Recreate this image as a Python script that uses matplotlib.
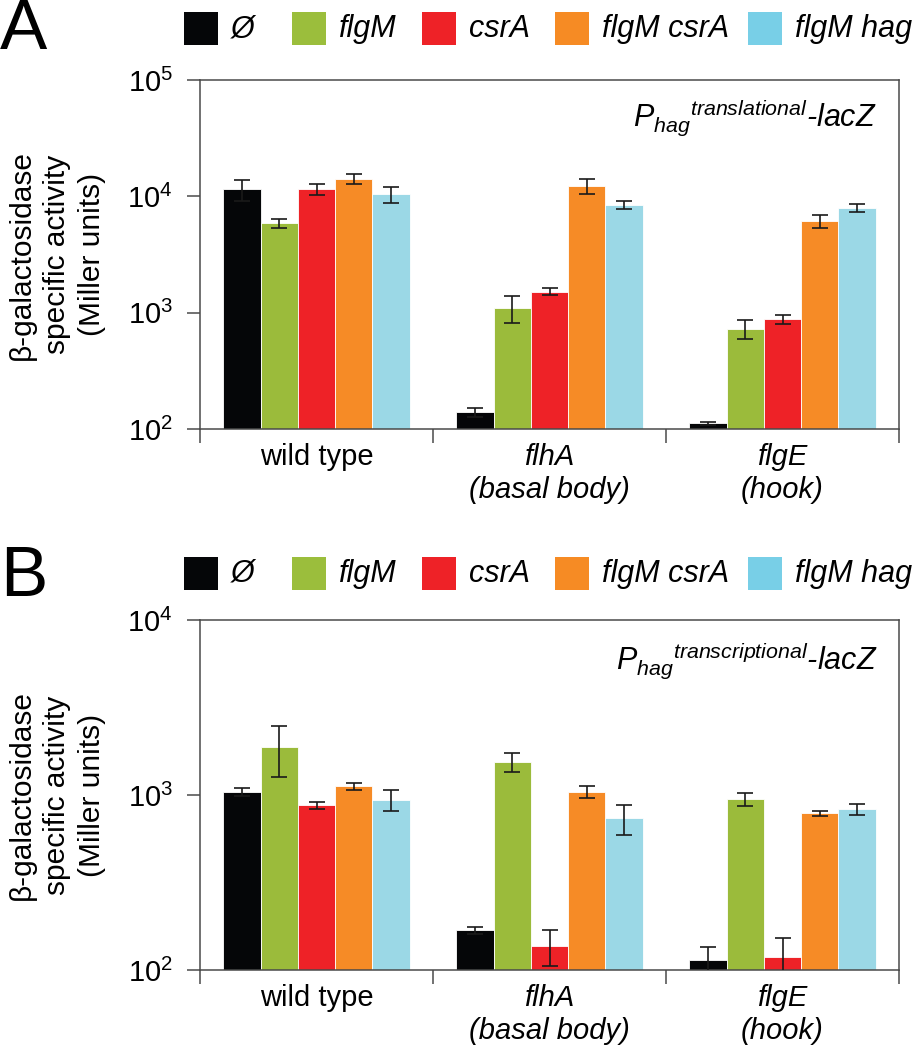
import matplotlib
matplotlib.use("Agg")
import matplotlib.pyplot as plt
import numpy as np
from matplotlib.patches import Rectangle
from matplotlib.ticker import NullLocator, LogLocator

plt.rcParams['font.family'] = ['Liberation Sans', 'DejaVu Sans']
plt.rcParams['mathtext.fontset'] = 'custom'
plt.rcParams['mathtext.rm'] = 'Liberation Sans'
plt.rcParams['mathtext.it'] = 'Liberation Sans:italic'
plt.rcParams['mathtext.bf'] = 'Liberation Sans:bold'

# ---------------- data ----------------
groups = ["wild type", "flhA\n(basal body)", "flgE\n(hook)"]
group_italic = [False, True, True]
strains = ["Ø", "flgM", "csrA", "flgM csrA", "flgM hag"]

# Panel A: P_hag translational-lacZ (Miller units), per strain, across groups
a_empty = [11500, 139, 112]
a_flgM = [5850, 1100, 724]
a_csrA = [11500, 1520, 877]
a_flgMcsrA = [14200, 12200, 6100]
a_flgMhag = [10400, 8450, 7980]
a_empty_err = [2400, 13, 4]
a_flgM_err = [550, 280, 135]
a_csrA_err = [1300, 100, 85]
a_flgMcsrA_err = [1500, 1800, 750]
a_flgMhag_err = [1600, 700, 690]

# Panel B: P_hag transcriptional-lacZ
b_empty = [1044, 169, 114]
b_flgM = [1875, 1545, 948]
b_csrA = [873, 138, 118]
b_flgMcsrA = [1122, 1040, 785]
b_flgMhag = [940, 736, 828]
b_empty_err = [55, 8, 22]
b_flgM_err = [600, 190, 85]
b_csrA_err = [40, 32, 34]
b_flgMcsrA_err = [50, 85, 22]
b_flgMhag_err = [135, 143, 63]

bar_colors = ["#050608", "#9BBB3B", "#EE2227", "#F68B26", "#9BD8E6"]
legend_colors = ["#050608", "#9BBE3C", "#EE2227", "#F68B24", "#78CFE7"]

W, H = 913, 1050
fig = plt.figure(figsize=(W / 100, H / 100), dpi=100)

def px(x, y):
    return x / W, 1 - y / H

line_col = "#4a4a4a"

def make_panel(top, bottom, ylim, vals, errs, annot_sup, annot_y):
    left, right = 200, 899
    ax = fig.add_axes([left / W, 1 - bottom / H, (right - left) / W, (bottom - top) / H])
    ax.set_yscale('log')
    ax.set_ylim(*ylim)
    ax.set_xlim(-0.5, len(groups) - 0.5)
    x = np.arange(len(groups))
    bw = 0.16
    for i, (v, e) in enumerate(zip(vals, errs)):
        xi = x + (i - 2) * bw
        ax.bar(xi, v, width=bw, color=bar_colors[i], edgecolor='white',
               linewidth=0.6, zorder=2)
        ax.errorbar(xi, v, yerr=e, fmt='none', ecolor='#1a1a1a', elinewidth=1.2,
                    capsize=5.8, capthick=1.2, zorder=3)
    for s in ax.spines.values():
        s.set_color(line_col)
        s.set_linewidth(1.1)
    ax.yaxis.set_major_locator(LogLocator(base=10, numticks=10))
    ax.yaxis.set_minor_locator(NullLocator())
    ax.tick_params(axis='y', which='major', length=9.5, width=1.1, color=line_col,
                   labelsize=21, pad=10)
    ax.set_xticks(np.arange(len(groups) + 1) - 0.5)
    ax.set_xticklabels([])
    ax.tick_params(axis='x', length=10, width=1.1, color=line_col)
    for i, g in enumerate(groups):
        ax.annotate(g, xy=(i, 0), xycoords=('data', 'axes fraction'),
                    xytext=(0, -10), textcoords='offset points',
                    ha='center', va='top', fontsize=21, linespacing=1.25,
                    style='italic' if group_italic[i] else 'normal')
    ax.text((877 - left) / (right - left), (bottom - annot_y) / (bottom - top),
            r'$P_{hag}{}^{' + annot_sup + r'}$-lacZ', transform=ax.transAxes,
            ha='right', va='baseline', fontsize=22, style='italic')
    fig.text(*px(57, (top + bottom) / 2),
             "β-galactosidase\nspecific activity\n(Miller units)",
             rotation=90, ha='center', va='center', multialignment='center',
             fontsize=21.5, linespacing=1.32)
    return ax

def draw_legend(top):
    sq_x = [184, 292, 422, 555, 748]
    for i, name in enumerate(strains):
        r = Rectangle(px(sq_x[i], top + 33), 34 / W, 33 / H, transform=fig.transFigure,
                      facecolor=legend_colors[i], edgecolor='none')
        fig.add_artist(r)
        fig.text(*px(sq_x[i] + 47, top + 17), name, ha='left', va='center',
                 fontsize=22, style='italic')

make_panel(80, 429, (1e2, 1e5),
           [a_empty, a_flgM, a_csrA, a_flgMcsrA, a_flgMhag],
           [a_empty_err, a_flgM_err, a_csrA_err, a_flgMcsrA_err, a_flgMhag_err],
           'translational', 127)
make_panel(620, 970, (1e2, 1e4),
           [b_empty, b_flgM, b_csrA, b_flgMcsrA, b_flgMhag],
           [b_empty_err, b_flgM_err, b_csrA_err, b_flgMcsrA_err, b_flgMhag_err],
           'transcriptional', 670)

draw_legend(12)
draw_legend(557)
fig.text(*px(0, 49), "A", fontsize=51, ha='left', va='baseline')
fig.text(*px(0, 596), "B", fontsize=51, ha='left', va='baseline')

fig.savefig("out.png", dpi=100)
